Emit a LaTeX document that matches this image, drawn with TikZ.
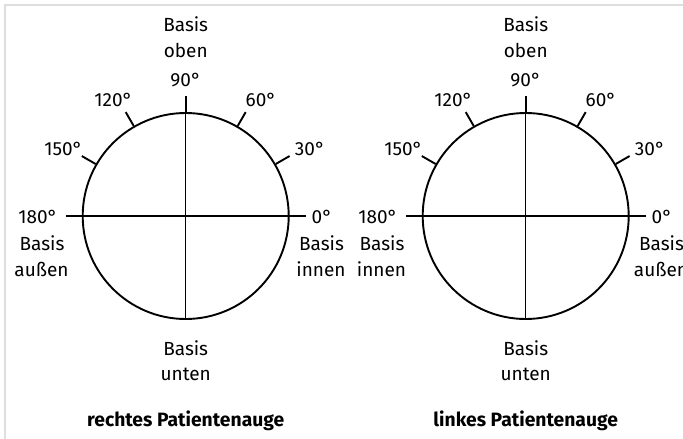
\documentclass[tikz,border=0pt]{standalone}
\usepackage{fontspec}
\setmainfont{Fira Sans}
\begin{document}
\begin{tikzpicture}[x=1pt,y=-1pt,
  lbl/.style={font=\fontsize{19}{22}\selectfont, inner sep=0pt, anchor=base},
  ttl/.style={font=\fontsize{19.3}{22}\selectfont\bfseries, inner sep=0pt, anchor=base},
  eye/.style={circle, draw, line width=1.9pt, minimum size=206pt, inner sep=0pt},
  axisline/.style={line width=1.1pt},
  tickmark/.style={line width=1.9pt},
  frameline/.style={draw=black!13, line width=2pt}]
\useasboundingbox (0,0) rectangle (683,439);
\draw[frameline] (5,439) -- (5,5) -- (683,5);
\foreach \s/\dx/\lw/\rw/\ti in {R/0/außen/innen/{rechtes Patientenauge}, L/340/innen/außen/{linkes Patientenauge}}{
  \begin{scope}[xshift=\dx pt]
    \node[eye] (c\s) at (185.7,216) {};
    \draw[axisline] (c\s.180) -- (c\s.0);
    \draw[axisline] (c\s.90) -- (c\s.270);
    \foreach \a in {0,30,60,90,120,150,180}
      \draw[tickmark] (c\s.\a) -- ++(\a:16pt) coordinate (t\s\a);
    \node[lbl] (bo\s) at (185.7,31) {Basis};
    \node[lbl] (ob\s) at (185.7,57) {oben};
    \node[lbl] (d90\s) at (185.7,86) {90°};
    \node[lbl] (d120\s) at (113.5,106) {120°};
    \node[lbl] (d60\s) at (261,106) {60°};
    \node[lbl] (d150\s) at (63.5,155) {150°};
    \node[lbl] (d30\s) at (310,155) {30°};
    \node[lbl] (d180\s) at (38,223) {180°};
    \node[lbl] (bl\s) at (42,250.5) {Basis};
    \node[lbl] (wl\s) at (41.5,276.5) {\lw};
    \node[lbl] (d0\s) at (322,223) {0°};
    \node[lbl] (br\s) at (321.5,250.5) {Basis};
    \node[lbl] (wr\s) at (321,276.5) {\rw};
    \node[lbl] (bu\s) at (185.7,355) {Basis};
    \node[lbl] (un\s) at (185.7,380.5) {unten};
    \node[ttl] (ti\s) at (185.7,426.7) {\ti};
  \end{scope}
}
\end{tikzpicture}
\end{document}
